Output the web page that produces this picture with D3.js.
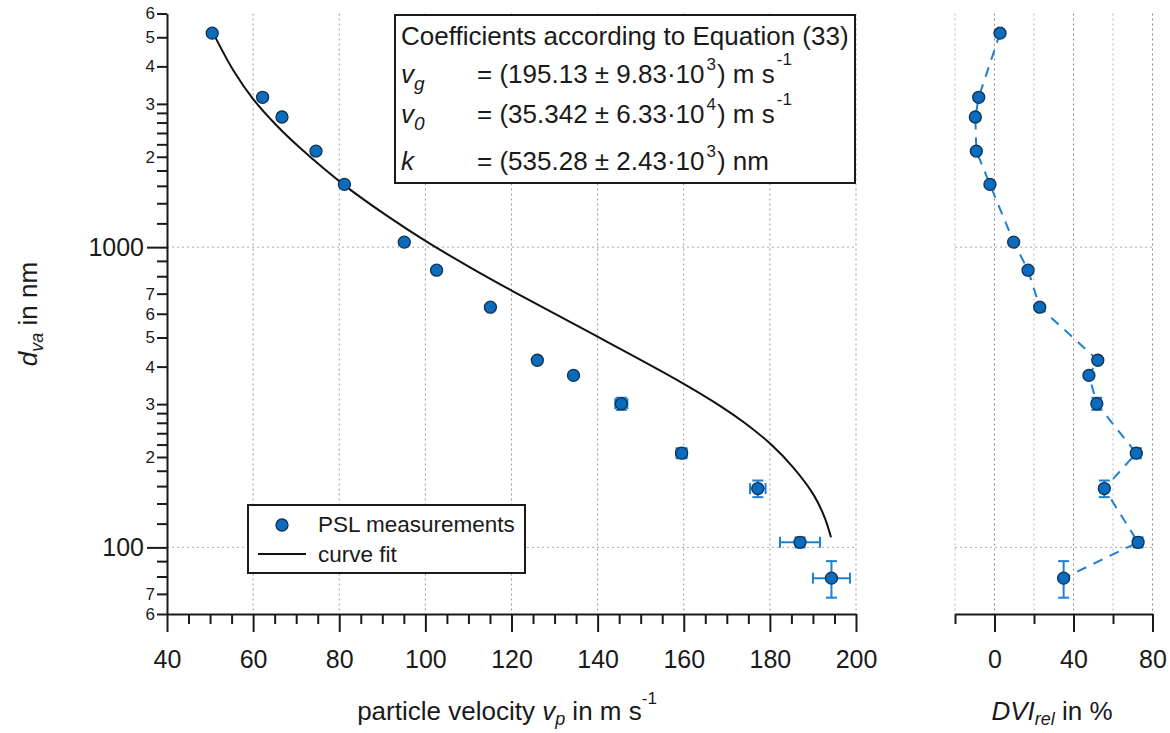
<!DOCTYPE html>
<html>
<head>
<meta charset="utf-8">
<script src="https://cdn.jsdelivr.net/npm/d3@7"></script>
<style>
  html, body { margin: 0; padding: 0; background: #fff; }
  svg { display: block; font-family: "Liberation Sans", Arial, sans-serif; }
</style>
</head>
<body>
<svg id="chart" width="1170" height="733"></svg>
<script>
// PSL measurements: particle velocity vs. vacuum aerodynamic diameter
const vp     = [50.5, 62.2, 66.7, 74.6, 81.2, 95.1, 102.6, 115.1, 126.0, 134.4, 145.5, 159.5, 177.2, 187.0, 194.3];
const dva    = [5160, 3155, 2713, 2089, 1618, 1039, 838, 631, 420, 374, 301, 206, 157, 104, 79];
const vpErr  = [0, 0, 0, 0, 0, 0, 0, 0, 0, 0, 1.4, 1.2, 1.8, 4.65, 4.3];
const dvaErr = [0, 0, 0, 0, 0, 0, 0, 0, 0, 0, 14, 8, 10, 4, 11];
const dviRel = [2.8, -8.0, -9.7, -9.2, -2.3, 9.7, 17.0, 22.9, 52.3, 47.8, 51.8, 71.8, 55.6, 72.7, 35.0];

// Fitted curve (Equation 33), sampled along its length
const fitVp  = [50.7, 55.35, 60.0, 65.35, 70.93, 81.16, 90.7, 100.47, 110.47, 120.23, 136.74,
                158.6, 168.6, 173.95, 180.23, 185.35, 190.23, 192.79, 194.19];
const fitDva = [5170, 3890, 3114, 2551, 2138, 1609, 1283, 1039, 855, 714, 533,
                360, 295, 261, 220.5, 185, 149, 125, 108];

// Axis ticks
const xMajorTicks = [40, 60, 80, 100, 120, 140, 160, 180, 200];
const xMinorTicks = d3.range(45, 200, 5).filter(v => v % 20 !== 0);
const yBigTicks   = [1000, 100];
const ySmallTicks = [6000, 5000, 4000, 3000, 2000, 700, 600, 500, 400, 300, 200, 70, 60];
const yMinorTicks = [2800, 2600, 2400, 2200, 1800, 1600, 1400, 1200, 900, 800,
                     280, 260, 240, 220, 180, 160, 140, 120, 90, 80];
const rMajorTicks = [0, 40, 80];
const rMinorTicks = [-20, 20, 60];

const blue = "#0a6cbf", markerStroke = "#14314f", errBlue = "#1f80d2", ink = "#1a1a1a";

const svg = d3.select("#chart");
svg.append("rect").attr("width", 1170).attr("height", 733).attr("fill", "#fff");

const x  = d3.scaleLinear().domain([40, 200]).range([167, 856]);
const y  = d3.scaleLog().domain([60, 6000]).range([614, 13.5]);
const xr = d3.scaleLinear().domain([-20, 80]).range([955, 1152.5]);

// ---------- grid ----------
const grid = svg.append("g").attr("fill", "none").attr("stroke-width", 1).attr("stroke-dasharray", "2,3");
grid.selectAll(".gx").data(xMajorTicks.slice(1)).join("line")
  .attr("x1", d => x(d)).attr("x2", d => x(d)).attr("y1", y(6000)).attr("y2", y(60))
  .attr("stroke", "#9a9a9a");
grid.selectAll(".gy").data(yBigTicks).join("line")
  .attr("x1", x(40)).attr("x2", x(200)).attr("y1", d => y(d)).attr("y2", d => y(d))
  .attr("stroke", "#aaa");
grid.selectAll(".grx").data(rMajorTicks.concat(rMinorTicks)).join("line")
  .attr("x1", d => xr(d)).attr("x2", d => xr(d)).attr("y1", y(6000)).attr("y2", y(60))
  .attr("stroke", d => rMajorTicks.includes(d) ? "#8a8a8a" : "#b5b5b5");
grid.selectAll(".gry").data(yBigTicks).join("line")
  .attr("x1", xr(-20)).attr("x2", xr(80)).attr("y1", d => y(d)).attr("y2", d => y(d))
  .attr("stroke", "#aaa");

// ---------- fit curve ----------
const fitPts = fitVp.map((v, i) => [v, fitDva[i]]);
svg.append("path")
  .datum(fitPts)
  .attr("fill", "none").attr("stroke", "#111").attr("stroke-width", 2)
  .attr("d", d3.line().x(d => x(d[0])).y(d => y(d[1])).curve(d3.curveCatmullRom.alpha(0.5)));

// ---------- error bars ----------
const pts = vp.map((v, i) => ({ v, d: dva[i], ev: vpErr[i], ed: dvaErr[i], dvi: dviRel[i] }));
const cap = 5.5;
function errorBars(g, px, withX) {
  const eb = g.append("g").attr("stroke", errBlue).attr("stroke-width", 2).attr("fill", "none");
  pts.forEach(p => {
    const cx = px(p), cy = y(p.d);
    if (withX && p.ev > 0) {
      const x1 = x(p.v - p.ev), x2 = x(p.v + p.ev);
      eb.append("line").attr("x1", x1).attr("x2", x2).attr("y1", cy).attr("y2", cy);
      eb.append("line").attr("x1", x1).attr("x2", x1).attr("y1", cy - cap).attr("y2", cy + cap);
      eb.append("line").attr("x1", x2).attr("x2", x2).attr("y1", cy - cap).attr("y2", cy + cap);
    }
    if (p.ed > 0) {
      const y1 = y(p.d + p.ed), y2 = y(p.d - p.ed);
      eb.append("line").attr("x1", cx).attr("x2", cx).attr("y1", y1).attr("y2", y2);
      eb.append("line").attr("x1", cx - cap).attr("x2", cx + cap).attr("y1", y1).attr("y2", y1);
      eb.append("line").attr("x1", cx - cap).attr("x2", cx + cap).attr("y1", y2).attr("y2", y2);
    }
  });
}
errorBars(svg, p => x(p.v), true);

// ---------- right panel dashed connection ----------
svg.append("path")
  .datum(pts)
  .attr("fill", "none").attr("stroke", errBlue).attr("stroke-width", 2)
  .attr("stroke-dasharray", "10,8")
  .attr("d", d3.line().x(p => xr(p.dvi)).y(p => y(p.d)));
errorBars(svg, p => xr(p.dvi), false);

// ---------- markers ----------
function markers(px) {
  svg.append("g").selectAll("circle").data(pts).join("circle")
    .attr("cx", px).attr("cy", p => y(p.d)).attr("r", 6)
    .attr("fill", blue).attr("stroke", markerStroke).attr("stroke-width", 1.3);
}
markers(p => x(p.v));
markers(p => xr(p.dvi));

// ---------- axes ----------
function styleAxis(g, fontSize) {
  g.selectAll("line").attr("stroke", ink).attr("stroke-width", 2);
  g.selectAll("path.domain").attr("stroke", ink).attr("stroke-width", 2);
  g.selectAll("text").attr("fill", ink).style("font-size", fontSize + "px")
    .style("font-family", '"Liberation Sans", Arial, sans-serif');
}

// bottom axis, left panel
const xMinor = svg.append("g").attr("transform", `translate(0,${y(60)})`)
  .call(d3.axisBottom(x).tickValues(xMinorTicks).tickSize(10).tickSizeOuter(0).tickFormat(""));
xMinor.select(".domain").remove();
styleAxis(xMinor, 25);
const xMajor = svg.append("g").attr("transform", `translate(0,${y(60)})`)
  .call(d3.axisBottom(x).tickValues(xMajorTicks).tickSize(18).tickSizeOuter(0).tickPadding(18).tickFormat(d3.format("d")));
styleAxis(xMajor, 25);

// left axis
const leadDigit = d => String(Math.round(d / Math.pow(10, Math.floor(Math.log10(d) + 1e-9))));
const yMinor = svg.append("g").attr("transform", `translate(${x(40)},0)`)
  .call(d3.axisLeft(y).tickValues(yMinorTicks).tickSize(10).tickSizeOuter(0).tickFormat(""));
yMinor.select(".domain").remove();
styleAxis(yMinor, 17);
const ySmall = svg.append("g").attr("transform", `translate(${x(40)},0)`)
  .call(d3.axisLeft(y).tickValues(ySmallTicks).tickSize(10).tickSizeOuter(0).tickPadding(2).tickFormat(leadDigit));
ySmall.select(".domain").remove();
styleAxis(ySmall, 17);
const yBig = svg.append("g").attr("transform", `translate(${x(40)},0)`)
  .call(d3.axisLeft(y).tickValues(yBigTicks).tickSize(20).tickSizeOuter(0).tickPadding(3).tickFormat(d3.format("d")));
styleAxis(yBig, 25);

// bottom axis, right panel
const rMinor = svg.append("g").attr("transform", `translate(0,${y(60)})`)
  .call(d3.axisBottom(xr).tickValues(rMinorTicks).tickSize(10).tickSizeOuter(0).tickFormat(""));
rMinor.select(".domain").remove();
styleAxis(rMinor, 25);
const rMajor = svg.append("g").attr("transform", `translate(0,${y(60)})`)
  .call(d3.axisBottom(xr).tickValues(rMajorTicks).tickSize(18).tickSizeOuter(0).tickPadding(18).tickFormat(d3.format("d")));
styleAxis(rMajor, 25);

// ---------- axis titles ----------
const xTitle = svg.append("text").attr("x", 507).attr("y", 720).attr("text-anchor", "middle")
  .attr("fill", ink).style("font-size", "26px");
xTitle.append("tspan").text("particle velocity ");
xTitle.append("tspan").attr("font-style", "italic").text("v");
xTitle.append("tspan").attr("font-style", "italic").attr("dy", 5).style("font-size", "18px").text("p");
xTitle.append("tspan").attr("dy", -5).text(" in m s");
xTitle.append("tspan").attr("dy", -16).style("font-size", "17px").text("-1");

const yTitle = svg.append("text").attr("transform", "translate(37,314) rotate(-90)")
  .attr("text-anchor", "middle").attr("fill", ink).style("font-size", "26px");
yTitle.append("tspan").attr("font-style", "italic").text("d");
yTitle.append("tspan").attr("font-style", "italic").attr("dy", 6).style("font-size", "18px").text("va");
yTitle.append("tspan").attr("dy", -6).text(" in nm");

const rTitle = svg.append("text").attr("x", 1052).attr("y", 720).attr("text-anchor", "middle")
  .attr("fill", ink).style("font-size", "26px");
rTitle.append("tspan").attr("font-style", "italic").text("DVI");
rTitle.append("tspan").attr("font-style", "italic").attr("dy", 5).style("font-size", "18px").text("rel");
rTitle.append("tspan").attr("dy", -5).text(" in %");

// ---------- legend ----------
const lg = svg.append("g");
lg.append("rect").attr("x", 248).attr("y", 505).attr("width", 277).attr("height", 68)
  .attr("fill", "#fff").attr("stroke", ink).attr("stroke-width", 2);
lg.append("circle").attr("cx", 282).attr("cy", 525).attr("r", 6)
  .attr("fill", blue).attr("stroke", markerStroke).attr("stroke-width", 1.3);
lg.append("line").attr("x1", 258).attr("x2", 306).attr("y1", 554).attr("y2", 554)
  .attr("stroke", "#111").attr("stroke-width", 2);
lg.append("text").attr("x", 318).attr("y", 532).attr("fill", ink).style("font-size", "22.5px").text("PSL measurements");
lg.append("text").attr("x", 318).attr("y", 562).attr("fill", ink).style("font-size", "22.5px").text("curve fit");

// ---------- coefficient box ----------
const cb = svg.append("g");
cb.append("rect").attr("x", 395).attr("y", 15).attr("width", 460).attr("height", 168)
  .attr("fill", "#fff").attr("stroke", ink).attr("stroke-width", 2);
cb.append("text").attr("x", 401).attr("y", 45).attr("fill", ink).style("font-size", "26px")
  .text("Coefficients according to Equation (33)");

const coefRows = [
  { sym: "v", sub: "g", base: 83,  val: "195.13", err: "9.83", exp: "3", unit: ") m s", unitSup: "-1" },
  { sym: "v", sub: "0", base: 123, val: "35.342", err: "6.33", exp: "4", unit: ") m s", unitSup: "-1" },
  { sym: "k", sub: "",  base: 170, val: "535.28", err: "2.43", exp: "3", unit: ") nm",  unitSup: "" }
];
coefRows.forEach(r => {
  const s = cb.append("text").attr("x", 401).attr("y", r.base).attr("fill", ink).style("font-size", "26px");
  s.append("tspan").attr("font-style", "italic").text(r.sym);
  if (r.sub) s.append("tspan").attr("font-style", "italic").attr("dy", 7).style("font-size", "19px").text(r.sub);
  const t = cb.append("text").attr("x", 477).attr("y", r.base).attr("fill", ink).style("font-size", "26px");
  t.append("tspan").text(`= (${r.val} \u00B1 ${r.err}\u00B710`);
  t.append("tspan").attr("dy", -13).attr("dx", 2).style("font-size", "17px").text(r.exp);
  t.append("tspan").attr("dy", 13).attr("dx", 1).text(r.unit);
  if (r.unitSup) t.append("tspan").attr("dy", -18).attr("dx", 2).style("font-size", "17px").text(r.unitSup);
});
</script>
</body>
</html>
